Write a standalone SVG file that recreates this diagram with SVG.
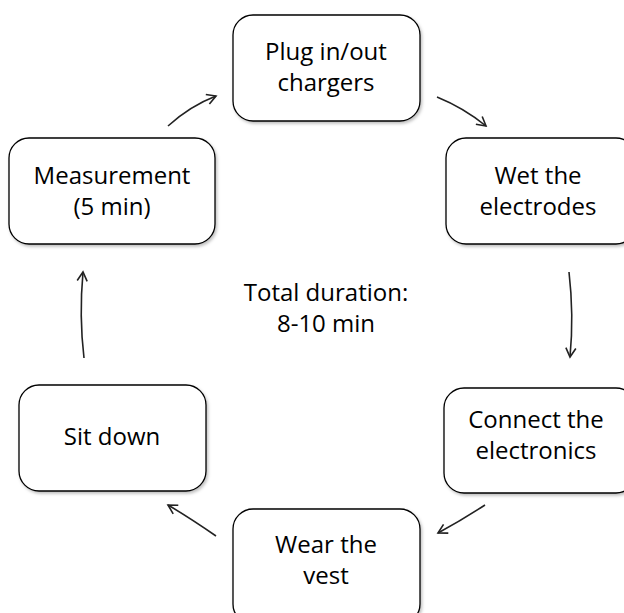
<svg xmlns="http://www.w3.org/2000/svg" width="624" height="613" viewBox="0 0 624 613">
<style>
.box{fill:#fff;stroke:#000;stroke-width:1.3;filter:url(#s)}
.t{font-family:"Open Sans","Noto Sans",sans-serif;font-size:24px;fill:#000;text-anchor:middle}
.c{fill:none;stroke:#222;stroke-width:1.6}
</style>
<defs>
<filter id="s" x="-10%" y="-10%" width="120%" height="130%">
<feDropShadow dx="1.5" dy="2" stdDeviation="1.5" flood-color="#000" flood-opacity="0.25"/>
</filter>
<marker id="a" viewBox="0 0 12 12" refX="10" refY="6" markerWidth="12" markerHeight="12" markerUnits="userSpaceOnUse" orient="auto">
<path d="M1,1 L10,6 L1,11" fill="none" stroke="#222" stroke-width="1.6"/>
</marker>
</defs>
<rect width="624" height="613" fill="#fff"/>
<g id="connectors">
<path class="c" d="M168,126 Q190,106 216,96" marker-end="url(#a)"/>
<path class="c" d="M437,97 Q464,108 486,126" marker-end="url(#a)"/>
<path class="c" d="M569,272 Q574,315 570,357" marker-end="url(#a)"/>
<path class="c" d="M485,505 Q462,520 438,533" marker-end="url(#a)"/>
<path class="c" d="M216,536 Q190,518 168,505" marker-end="url(#a)"/>
<path class="c" d="M84,358 Q79,316 83,272" marker-end="url(#a)"/>
</g>
<g id="plug">
<rect class="box" x="233" y="15" width="187" height="106" rx="20"/>
<text class="t" x="326" y="60">Plug in/out</text>
<text class="t" x="326" y="91">chargers</text>
</g>
<g id="measurement">
<rect class="box" x="9" y="138" width="206" height="106" rx="20"/>
<text class="t" x="112" y="184">Measurement</text>
<text class="t" x="112" y="215">(5 min)</text>
</g>
<g id="wet">
<rect class="box" x="446" y="138" width="190" height="106" rx="20"/>
<text class="t" x="538" y="184">Wet the</text>
<text class="t" x="538" y="215">electrodes</text>
</g>
<g id="total">
<text class="t" x="326" y="301">Total duration:</text>
<text class="t" x="326" y="332">8-10 min</text>
</g>
<g id="connect">
<rect class="box" x="444" y="388" width="192" height="105" rx="20"/>
<text class="t" x="536" y="428">Connect the</text>
<text class="t" x="536" y="459">electronics</text>
</g>
<g id="sit">
<rect class="box" x="19" y="385" width="187" height="106" rx="20"/>
<text class="t" x="112" y="445">Sit down</text>
</g>
<g id="wear">
<rect class="box" x="233" y="509" width="187" height="115" rx="20"/>
<text class="t" x="326" y="553">Wear the</text>
<text class="t" x="326" y="584">vest</text>
</g>
</svg>
